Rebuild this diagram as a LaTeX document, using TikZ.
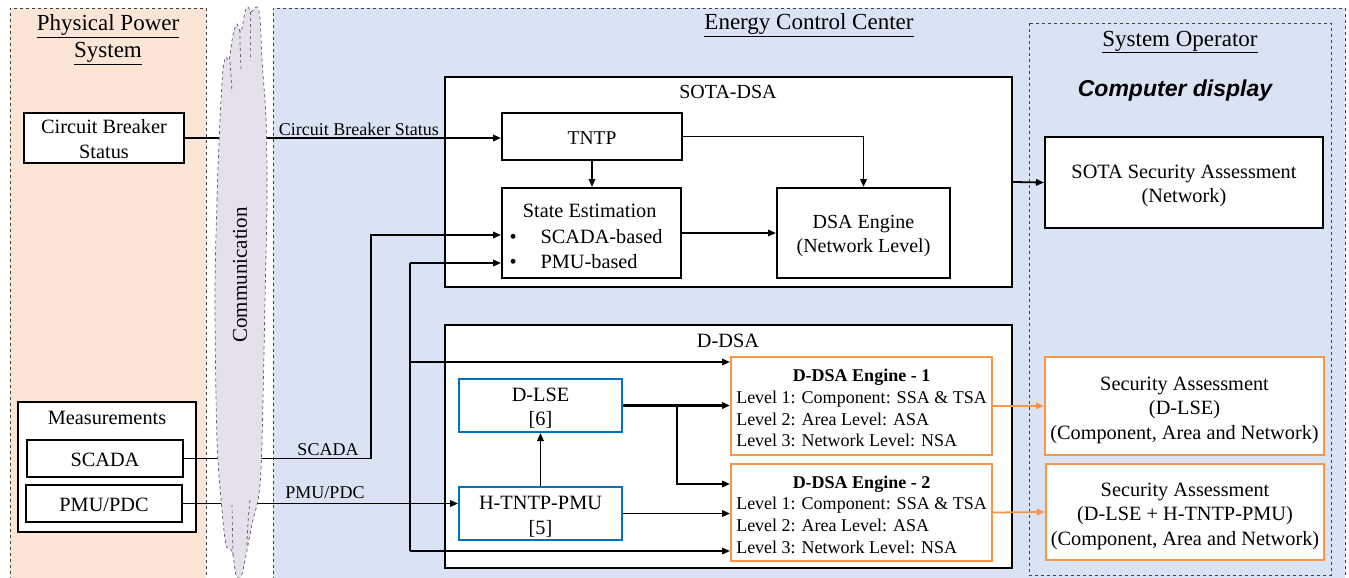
\documentclass[tikz,border=0pt]{standalone}
\usepackage{fontspec}
\setmainfont{Liberation Serif}
\setsansfont{Liberation Sans}
\usetikzlibrary{arrows.meta}
\definecolor{peach}{HTML}{FBE5D6}
\definecolor{eccblue}{HTML}{DAE3F3}
\definecolor{lav}{HTML}{E6E0EC}
\definecolor{dsaorange}{HTML}{F79646}
\definecolor{dsablue}{HTML}{0070C0}
\newcommand\szTitle{\fontsize{23}{27}\selectfont}
\newcommand\szBox{\fontsize{20.3}{24.5}\selectfont}
\newcommand\szEng{\fontsize{18}{21.7}\selectfont}
\newcommand\szLbl{\fontsize{18}{21}\selectfont}
\tikzset{
  region/.style={draw=black!75, dashed, line width=0.9pt},
  box/.style={draw, line width=2pt, fill=white, inner sep=0pt},
  bbox/.style={box, draw=dsablue},
  obox/.style={box, draw=dsaorange},
  txt/.style={font=\szBox, align=center, inner sep=0pt},
  arr/.style={line width=1.8pt, -{Triangle[length=8pt,width=6.5pt]}},
  oarr/.style={arr, draw=dsaorange},
  plain/.style={line width=1.8pt},
  lbl/.style={font=\szLbl, inner sep=1pt},
  cloudst/.style={draw=black!65, dashed, line width=0.7pt, fill=lav},
  lobe/.style={draw=black!65, dashed, line width=0.7pt},
}
\begin{document}
\begin{tikzpicture}[x=1pt,y=-1pt]
\useasboundingbox (0,0) rectangle (1349,578);
% regions
\fill[peach] (10,8) rectangle (206,580);
\draw[region] (10,580) -- (10,8) -- (206,8) -- (206,580);
\fill[eccblue] (273,8) rectangle (1345,580);
\draw[region] (273,580) -- (273,8) -- (1345,8) -- (1345,580);
\draw[region] (1029,23) rectangle (1331,575);
\node[font=\szTitle, align=center] (ppstitle) at (108,40) {\underline{Physical Power}\\\underline{System}};
\node[font=\szTitle] (ecctitle) at (809,25) {\underline{Energy Control Center}};
\node[font=\szTitle] (sotitle) at (1180,42) {\underline{System Operator}};
\node[font=\szTitle\sffamily\bfseries\itshape] (cdisp) at (1175,91) {Computer display};

% physical side
\node[box, minimum width=160, minimum height=50] (cb) at (104,138) {};
\node[txt, font=\fontsize{20.3}{25}\selectfont] (cbtext) at ([yshift=-1.5pt]cb.center) {Circuit Breaker\\Status};
\node[box, minimum width=178, minimum height=130] (meas) at (107,467) {};
\node[txt] (meastitle) at (107,418) {Measurements};
\node[box, minimum width=156, minimum height=37] (scada) at (105,458.5) {};
\node[txt] (scadatext) at ([yshift=-1pt]scada.center) {SCADA};
\node[box, minimum width=156, minimum height=37] (pmu) at (104,503.5) {};
\node[txt] (pmutext) at ([yshift=-1pt]pmu.center) {PMU/PDC};

% SOTA-DSA
\node[box, minimum width=567, minimum height=210] (sota) at (728.5,182) {};
\node[txt, font=\fontsize{20}{24}\selectfont] (sotatitle) at (728,92) {SOTA-DSA};
\node[box, minimum width=180, minimum height=47] (tntp) at (592,136.5) {};
\node[txt, font=\fontsize{19.5}{24}\selectfont] (tntptext) at ([yshift=-2pt]tntp.center) {TNTP};
\node[box, minimum width=179, minimum height=90] (se) at (591.5,233) {};
\node[txt, font=\fontsize{20.3}{25.5}\selectfont] (setext) at (586,238) {\begin{tabular}{@{}c@{\hspace{24pt}}l@{}}\multicolumn{2}{r}{State Estimation}\\ \textbullet & SCADA-based\\ \textbullet & PMU-based\end{tabular}};
\node[box, minimum width=173, minimum height=90] (dsa) at (863.5,233) {};
\node[txt, font=\fontsize{20}{24}\selectfont] (dsatext) at ([yshift=-3pt]dsa.center) {DSA Engine\\(Network Level)};
\node[box, minimum width=278, minimum height=91] (sotasa) at (1184,182.5) {};
\node[txt] (sotasatext) at ([yshift=-3.5pt]sotasa.center) {SOTA Security Assessment\\(Network)};

% D-DSA
\node[box, minimum width=567, minimum height=243] (ddsa) at (728.5,446.5) {};
\node[txt] (ddsatitle) at (728,341) {D-DSA};
\node[bbox, minimum width=163, minimum height=53] (dlse) at (540.5,405.5) {};
\node[txt, font=\fontsize{20.3}{24}\selectfont] (dlsetext) at ([yshift=-2.5pt]dlse.center) {D-LSE\\{}[6]};
\node[bbox, minimum width=163, minimum height=53] (htntp) at (540.5,513.5) {};
\node[txt, font=\fontsize{20.3}{25}\selectfont] (htntptext) at ([yshift=-3.5pt]htntp.center) {H-TNTP-PMU\\{}[5]};
\node[obox, minimum width=261, minimum height=98] (e1) at (861.5,406) {};
\node[txt, font=\szEng] (e1text) at ([yshift=-4pt]e1.center) {\begin{tabular}{@{}l@{}}\multicolumn{1}{@{}c@{}}{\textbf{D-DSA Engine - 1}}\\Level 1: Component: SSA \& TSA\\Level 2: Area Level: ASA\\Level 3: Network Level: NSA\end{tabular}};
\node[obox, minimum width=261, minimum height=97] (e2) at (861.5,512.5) {};
\node[txt, font=\szEng] (e2text) at ([yshift=-4pt]e2.center) {\begin{tabular}{@{}l@{}}\multicolumn{1}{@{}c@{}}{\textbf{D-DSA Engine - 2}}\\Level 1: Component: SSA \& TSA\\Level 2: Area Level: ASA\\Level 3: Network Level: NSA\end{tabular}};
\node[obox, minimum width=279, minimum height=98] (sa1) at (1184.5,406) {};
\node[txt] (sa1text) at ([yshift=-4pt]sa1.center) {Security Assessment\\(D-LSE)\\(Component, Area and Network)};
\node[obox, minimum width=278, minimum height=96] (sa2) at (1185,512) {};
\node[txt] (sa2text) at ([yshift=-4pt]sa2.center) {Security Assessment\\(D-LSE + H-TNTP-PMU)\\(Component, Area and Network)};

% connectors
\draw[arr] (cb.east) -- (cb.east -| tntp.west) node[lbl, pos=0.55, above] (cblbl) {Circuit Breaker Status};
\coordinate (scadaturn) at (371,235);
\draw[arr] (scada.east) -| (scadaturn) -- (scadaturn -| se.west);
\node[lbl] (scadalbl) at (328,450) {SCADA};
\draw[arr] (pmu.east) -- (pmu.east -| htntp.west);
\node[lbl] (pmulbl) at (325,493) {PMU/PDC};
\coordinate (bustop) at (410,263);
\coordinate (bus1) at (410,362);
\coordinate (busbot) at (410,551);
\draw[plain] (bustop) -- (busbot);
\draw[arr] (bustop) -- (bustop -| se.west);
\draw[arr] (bus1) -- (bus1 -| e1.west);
\draw[arr] (busbot) -- (busbot -| e2.west);
\draw[arr] (tntp.south) -- (tntp.south |- se.north);
\draw[arr] (tntp.east) -| (dsa.north);
\draw[arr] (se.east |- dsa.west) -- (dsa.west);
\draw[arr] (sota.east) -- (sotasa.west);
\coordinate (br) at (677,406);
\coordinate (br2) at (677,484);
\draw[arr, line width=2.2pt] (dlse.east) -- (dlse.east -| e1.west);
\draw[arr] (br) -- (br2) -- (br2 -| e2.west);
\draw[arr] (htntp.north) -- (dlse.south);
\draw[arr] (htntp.east) -- (htntp.east -| e2.west);
\draw[oarr] (e1.east) -- (sa1.west);
\draw[oarr] (e2.east) -- (sa2.west);

% communication cloud
\draw[cloudst] plot[smooth cycle, tension=0.55] coordinates {(215,300) (217,200) (220,120) (223,70) (226,57) (229,60) (233,35) (237,24) (241,32) (245,12) (248,7) (251,12) (254,9) (257,7) (260,18) (262,60) (266,120) (267,200) (265,300) (263,400) (261,470) (258,500) (253,520) (248,545) (243,570) (240,578) (236,575) (233,555) (230,548) (226,545) (222,510) (217,440)};
\draw[lobe] (230,62) .. controls (231,75) .. (232,92);
\draw[lobe] (240,30) .. controls (240,45) .. (241,70);
\draw[lobe] (250,12) .. controls (250,30) .. (250,60);
\draw[lobe] (247,545) .. controls (248,520) .. (250,500);
\draw[lobe] (233,555) .. controls (233,530) .. (232,505);
\node[font=\fontsize{21}{24}\selectfont, rotate=90] (comm) at (240,275) {Communication};
\end{tikzpicture}
\end{document}
